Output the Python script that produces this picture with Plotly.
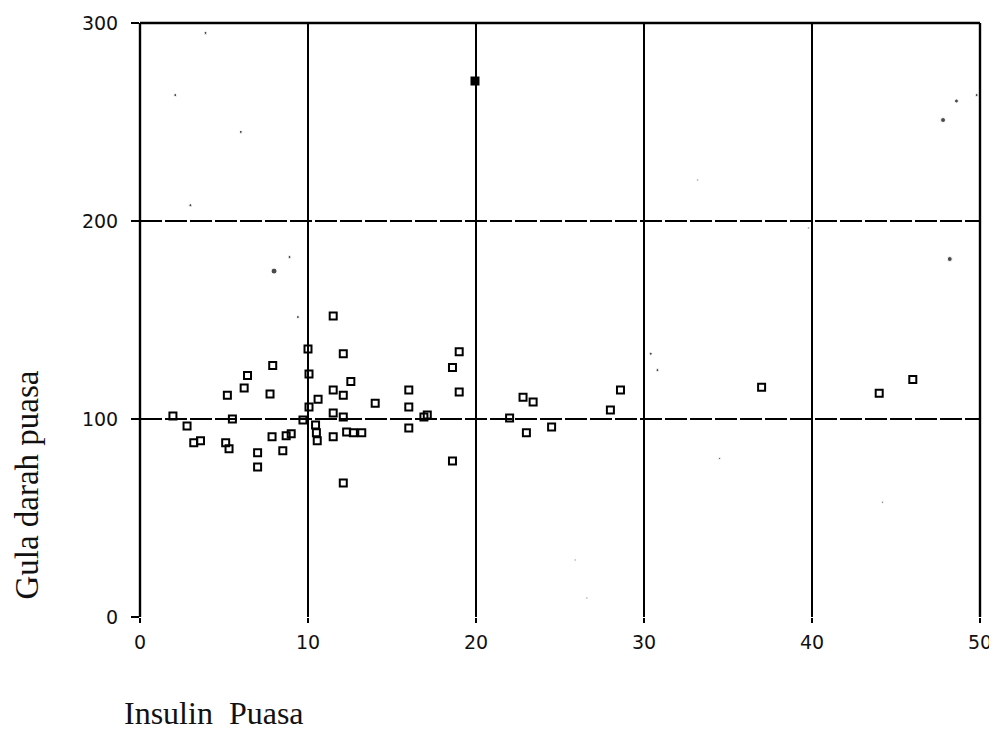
import plotly.graph_objects as go

# Open-square data points (Insulin Puasa, Gula darah puasa)
insulin = [1.96, 2.8, 3.2, 3.6, 5.1, 5.3, 5.5, 5.2, 6.2, 6.4, 7.9, 7.74, 7.86,
           8.7, 9.0, 8.5, 7.0, 7.0, 9.7, 10.0, 10.06, 10.06, 10.6,
           10.45, 10.5, 10.55, 11.5, 12.1, 12.55, 11.5, 12.1, 14.0, 11.5, 12.1,
           11.5, 12.3, 12.7, 13.2, 12.1, 16.0, 16.0, 16.0, 16.9, 17.1,
           18.6, 19.0, 19.0, 18.6, 22.0, 22.8, 23.4, 23.0, 24.5, 28.0, 28.6,
           37.0, 44.0, 46.0]
gula = [101.5, 96.5, 88, 89, 88, 85, 100, 112, 115.7, 122, 127, 112.6, 91,
        91.5, 92.5, 84, 83, 75.8, 99.5, 135.4, 122.7, 106, 110,
        97, 93, 89, 152, 133, 119, 114.6, 112, 108, 103, 101,
        91, 93.4, 93, 93, 67.7, 114.6, 106, 95.5, 101, 102,
        126, 134, 113.6, 78.8, 100.5, 111, 108.6, 93, 96, 104.5, 114.6,
        116, 113, 120]

# Solid (filled) square point
filled_x = [19.94]
filled_y = [270.7]

# Small dots visible in the picture
dot_x = [7.98, 8.9, 9.4, 47.8, 48.6, 49.8, 50.2, 48.2, 3.9, 2.1, 6.0, 3.0,
         30.4, 30.8, 33.2, 39.8, 34.5, 44.2, 25.9, 26.6]
dot_y = [174.7, 181.8, 151.5, 251, 260.6, 263.6, 263.6, 180.8, 295, 263.6, 245, 208,
         133, 124.7, 220.7, 196.5, 80, 58, 28.8, 9.6]
dot_size = [6, 3, 3, 5, 4, 3, 3, 5, 3, 3, 3, 3, 3, 3, 2, 2, 2, 2, 2, 2]

x_ticks = [0, 10, 20, 30, 40, 50]
y_ticks = [0, 100, 200, 300]
x_title = "Insulin  Puasa"
y_title = "Gula darah puasa"

fig = go.Figure()
fig.add_trace(go.Scatter(
    x=insulin, y=gula, mode="markers",
    marker=dict(symbol="square-open", size=7, color="black", line=dict(width=2, color="black")),
    showlegend=False, cliponaxis=False))
fig.add_trace(go.Scatter(
    x=filled_x, y=filled_y, mode="markers",
    marker=dict(symbol="square", size=9, color="black"),
    showlegend=False, cliponaxis=False))
fig.add_trace(go.Scatter(
    x=dot_x, y=dot_y, mode="markers",
    marker=dict(symbol="circle", size=dot_size, color="black"),
    showlegend=False, cliponaxis=False))

tick_font = dict(family="DejaVu Sans", size=19, color="#111")

fig.update_xaxes(
    range=[0, 50], tickvals=x_ticks, ticktext=[str(v) for v in x_ticks],
    showgrid=True, gridcolor="black", gridwidth=2.4,
    zeroline=False, showline=False, automargin=False,
    ticks="outside", ticklen=5, tickcolor="black", tickwidth=1.5,
    tickfont=tick_font, ticklabelstandoff=3)
fig.update_yaxes(
    range=[0, 300], tickvals=y_ticks, ticktext=[str(v) for v in y_ticks],
    showgrid=True, gridcolor="black", gridwidth=1.8, griddash="22px,3px",
    zeroline=False, showline=False, automargin=False,
    ticks="outside", ticklen=8, tickcolor="black", tickwidth=1.5,
    tickfont=tick_font, ticklabelstandoff=9)

frame = dict(color="black", width=2.4)
fig.update_layout(
    width=997, height=736,
    margin=dict(l=132, r=25, t=15, b=127),
    paper_bgcolor="white", plot_bgcolor="white",
    shapes=[
        dict(type="line", xref="paper", yref="paper", x0=0, x1=1, y0=1, y1=1, line=frame, layer="above"),
        dict(type="line", xref="paper", yref="paper", x0=0, x1=0, y0=0, y1=1, line=frame, layer="above"),
        dict(type="line", xref="paper", yref="paper", x0=1, x1=1, y0=0, y1=1, line=frame, layer="above"),
    ],
    annotations=[
        dict(text=x_title, xref="paper", yref="paper", x=-0.0214, y=-0.1616,
             xanchor="left", yanchor="middle", showarrow=False,
             font=dict(family="Liberation Serif", size=32, color="#111")),
        dict(text=y_title, xref="paper", yref="paper", x=-0.134, y=0.222,
             xanchor="center", yanchor="middle", textangle=-90, showarrow=False,
             font=dict(family="Liberation Serif", size=33, color="#111")),
    ],
)

fig.write_html("out.html")
